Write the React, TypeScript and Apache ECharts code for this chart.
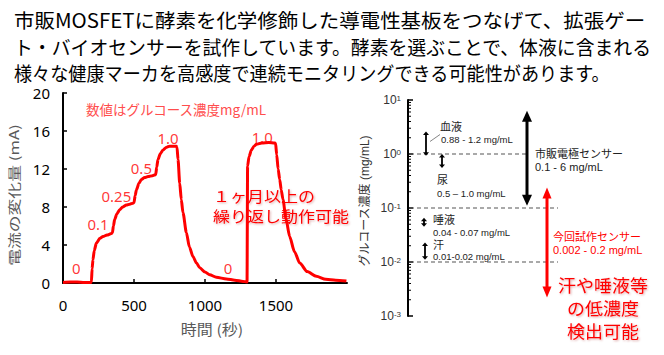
import React, { useEffect, useRef } from "react";
import * as echarts from "echarts";

// ---- Left chart: current change (mA) vs time (s) ----
const timeSec = [
  0, 50, 100, 150, 195,
  200, 205, 211, 220, 235, 260, 282, 310, 341, 348,
  355, 364, 380, 399, 420, 446, 470, 493, 500,
  508, 517, 535, 552, 575, 599, 630, 653,
  660, 669, 685, 704, 730, 751, 798, 803,
  810, 822, 833, 845, 869, 890, 915, 940, 963, 1000, 1033, 1080, 1151, 1210, 1268, 1291, 1296,
  1300, 1310, 1327, 1345, 1362, 1400, 1450, 1490, 1497,
  1505, 1515, 1526, 1537, 1549, 1570, 1596, 1630, 1667, 1720, 1784, 1850, 1920, 1996,
];
const currentMA = [
  0.05, 0.1, 0.1, 0.05, 0.05,
  0.1, 1.5, 2.45, 3.4, 4.2, 4.7, 4.9, 5.05, 5.2, 5.3,
  6.0, 6.7, 7.3, 7.7, 8.0, 8.2, 8.3, 8.4, 8.45,
  9.2, 9.8, 10.5, 10.9, 11.1, 11.2, 11.3, 11.4,
  12.2, 13.0, 13.6, 14.0, 14.3, 14.4, 14.4, 14.3,
  13.0, 10.5, 8.8, 7.4, 5.3, 3.8, 2.8, 2.1, 1.6, 1.15, 0.87, 0.6, 0.42, 0.3, 0.17, 0.12, 0.1,
  12.3, 13.3, 14.0, 14.4, 14.6, 14.75, 14.8, 14.75, 14.7,
  13.5, 12.0, 10.9, 9.8, 8.8, 6.8, 4.9, 3.3, 2.1, 1.2, 0.7, 0.4, 0.3, 0.2,
];
const concLabelTimes = [94, 247, 376, 552, 740, 1162, 1404];
const concLabelValues = [1.6, 6.2, 9.2, 12.1, 15.3, 1.6, 15.4];
const concLabelTexts = ["0", "0.1", "0.25", "0.5", "1.0", "0", "1.0"];

// ---- Right chart: glucose concentration ranges (mg/mL, log scale) ----
const fluidNames = ["血液", "尿", "唾液", "汗"];
const fluidLow = [0.93, 0.55, 0.045, 0.011];
const fluidHigh = [2.6, 1.0, 0.066, 0.023];
const fluidRangeTexts = ["0.88 - 1.2 mg/mL", "0.5 – 1.0 mg/mL", "0.04 - 0.07 mg/mL", "0.01-0.02 mg/mL"];
const commercialRange = [0.11, 6.3];
const prototypeRange = [0.0022, 0.24];
const refLevels = [1, 0.1, 0.01];
const logDecades = [-3, -2, -1, 0];
const logMinorMultipliers = [2, 3, 4, 5, 6, 7, 8, 9];

const CJK = "'Noto Sans CJK JP', sans-serif";
const ARIAL = "'Liberation Sans', 'Noto Sans CJK JP', sans-serif";
const RED = "#ff0000";

function arrowRenderer(color: string, lw: number, headW: number, headL: number) {
  return (params: any, api: any) => {
    const x = api.value(0);
    const lo = api.value(1);
    const hi = api.value(2);
    const top = api.coord([x, hi]);
    const bot = api.coord([x, lo]);
    return {
      type: "group",
      children: [
        {
          type: "line",
          shape: { x1: top[0], y1: top[1] + headL * 0.8, x2: bot[0], y2: bot[1] - headL * 0.8 },
          style: { stroke: color, lineWidth: lw },
        },
        {
          type: "polygon",
          shape: { points: [[top[0], top[1]], [top[0] - headW / 2, top[1] + headL], [top[0] + headW / 2, top[1] + headL]] },
          style: { fill: color },
        },
        {
          type: "polygon",
          shape: { points: [[bot[0], bot[1]], [bot[0] - headW / 2, bot[1] - headL], [bot[0] + headW / 2, bot[1] - headL]] },
          style: { fill: color },
        },
      ],
    };
  };
}

export default function App() {
  const ref = useRef<HTMLDivElement>(null);
  useEffect(() => {
    if (!ref.current) return;
    const chart = echarts.init(ref.current, undefined, { renderer: "svg" });

    const lineData = timeSec.map((t, i) => [t, currentMA[i]]);
    const concData = concLabelTimes.map((t, i) => ({ value: [t, concLabelValues[i]], name: concLabelTexts[i] }));

    // layout positions (x in px offset from right-chart axis)
    const fluidArrowX = [18, 34, 16, 17];
    const refLineEnds = [120, 150, 150];
    const fluidData = fluidNames.map((_, i) => [fluidArrowX[i], fluidLow[i], fluidHigh[i]]);
    const minorTickData: number[][] = [];
    logDecades.forEach((d) => logMinorMultipliers.forEach((m) => minorTickData.push([0, m * Math.pow(10, d)])));

    const titleLines = [
      { text: "市販MOSFETに酵素を化学修飾した導電性基板をつなげて、拡張ゲー", y: 20, sx: 1.05 },
      { text: "ト・バイオセンサーを試作しています。酵素を選ぶことで、体液に含まれる", y: 46.5, sx: 0.967 },
      { text: "様々な健康マーカを高感度で連続モニタリングできる可能性があります。", y: 72, sx: 0.93 },
    ];

    const smallTexts = [
      { t: "血液", x: 440, y: 127, s: 11, c: "#222" },
      { t: fluidRangeTexts[0], x: 441, y: 139.5, s: 9.5, c: "#222" },
      { t: "尿", x: 437, y: 180, s: 11, c: "#222" },
      { t: fluidRangeTexts[1], x: 437, y: 193.5, s: 9.5, c: "#222" },
      { t: "唾液", x: 433, y: 220, s: 11, c: "#222" },
      { t: fluidRangeTexts[2], x: 433, y: 232, s: 9.5, c: "#222" },
      { t: "汗", x: 433, y: 245, s: 11, c: "#222" },
      { t: fluidRangeTexts[3], x: 433, y: 256.5, s: 9.5, c: "#222" },
      { t: "市販電極センサー", x: 535, y: 153.5, s: 11, c: "#222" },
      { t: "0.1 - 6 mg/mL", x: 535, y: 166.5, s: 11, c: "#222" },
      { t: "今回試作センサー", x: 553, y: 237, s: 11, c: RED },
      { t: "0.002 - 0.2 mg/mL", x: 553, y: 249.5, s: 11, c: RED },
    ];

    const glow = { textShadowColor: "rgba(150,0,0,0.35)", textShadowBlur: 2, textShadowOffsetX: 1, textShadowOffsetY: 1 };

    chart.setOption({
      animation: false,
      backgroundColor: "#ffffff",
      grid: [
        { left: 63, top: 93, width: 284, height: 190, containLabel: false },
        { left: 408, top: 100, width: 250, height: 216, containLabel: false },
      ],
      xAxis: [
        {
          type: "value",
          gridIndex: 0,
          min: 0,
          max: 2000,
          interval: 500,
          axisLine: { lineStyle: { color: "#000", width: 2 } },
          axisTick: { inside: true, length: 4, lineStyle: { color: "#000", width: 1.5 } },
          axisLabel: {
            color: "#000",
            fontSize: 15,
            fontFamily: "'Noto Sans', sans-serif",
            margin: 14,
            showMaxLabel: false,
            formatter: (v: number) => String(v),
          },
          splitLine: { show: false },
        },
        { type: "value", gridIndex: 1, min: 0, max: 250, show: false },
      ],
      yAxis: [
        {
          type: "value",
          gridIndex: 0,
          min: 0,
          max: 20,
          interval: 4,
          axisLine: { show: true, lineStyle: { color: "#000", width: 2 } },
          axisTick: { show: true, inside: true, length: 4, lineStyle: { color: "#000", width: 1.5 } },
          axisLabel: { color: "#000", fontSize: 15, fontFamily: "'Noto Sans', sans-serif", margin: 13 },
          splitLine: { show: false },
        },
        {
          type: "log",
          logBase: 10,
          gridIndex: 1,
          min: 0.001,
          max: 10,
          axisLine: { show: true, lineStyle: { color: "#000", width: 2 } },
          axisTick: { show: true, inside: true, length: 5, lineStyle: { color: "#000", width: 1.5 } },
          axisLabel: {
            margin: 7,
            formatter: (v: number) => `{b|10}{s|${Math.round(Math.log10(v))}}`,
            rich: {
              b: { fontSize: 12, color: "#333", fontFamily: ARIAL },
              s: { fontSize: 8, color: "#333", fontFamily: ARIAL, verticalAlign: "top" },
            },
          },
          splitLine: { show: false },
        },
      ],
      series: [
        {
          type: "line",
          xAxisIndex: 0,
          yAxisIndex: 0,
          data: lineData,
          showSymbol: false,
          smooth: 0.25,
          smoothMonotone: "x",
          lineStyle: { color: RED, width: 3 },
          z: 3,
        },
        {
          type: "scatter",
          xAxisIndex: 0,
          yAxisIndex: 0,
          data: concData,
          symbolSize: 2,
          itemStyle: { color: "rgba(255,255,255,0)" },
          label: {
            show: true,
            position: "inside",
            formatter: (p: any) => p.name,
            color: RED,
            fontSize: 15,
            fontFamily: "'Noto Sans', sans-serif",
          },
          z: 4,
        },
        {
          type: "custom",
          xAxisIndex: 1,
          yAxisIndex: 1,
          data: minorTickData,
          encode: { x: 0, y: 1 },
          renderItem: (params: any, api: any) => {
            const p = api.coord([api.value(0), api.value(1)]);
            return { type: "line", shape: { x1: p[0], y1: p[1], x2: p[0] + 3, y2: p[1] }, style: { stroke: "#000", lineWidth: 1 } };
          },
        },
        {
          type: "custom",
          xAxisIndex: 1,
          yAxisIndex: 1,
          data: refLevels.map((lv, i) => [refLineEnds[i], lv]),
          encode: { x: 0, y: 1 },
          renderItem: (params: any, api: any) => {
            const p0 = api.coord([0, api.value(1)]);
            const p1 = api.coord([api.value(0), api.value(1)]);
            return {
              type: "line",
              shape: { x1: p0[0] + 2, y1: p0[1], x2: p1[0], y2: p1[1] },
              style: { stroke: "#555", lineWidth: 1.2, lineDash: [4, 3] },
            };
          },
        },
        {
          type: "custom",
          xAxisIndex: 1,
          yAxisIndex: 1,
          data: fluidData,
          encode: { x: 0, y: [1, 2] },
          renderItem: arrowRenderer("#000", 1.8, 6, 3.5),
          z: 5,
        },
        {
          type: "custom",
          xAxisIndex: 1,
          yAxisIndex: 1,
          data: [[119, commercialRange[0], commercialRange[1]]],
          encode: { x: 0, y: [1, 2] },
          renderItem: arrowRenderer("#000", 3, 10, 11),
          z: 5,
        },
        {
          type: "custom",
          xAxisIndex: 1,
          yAxisIndex: 1,
          data: [[139, prototypeRange[0], prototypeRange[1]]],
          encode: { x: 0, y: [1, 2] },
          renderItem: arrowRenderer(RED, 3, 9, 11),
          z: 5,
        },
      ],
      graphic: [
        ...titleLines.map((l) => ({
          type: "text",
          x: 14,
          y: l.y,
          scaleX: l.sx,
          style: { text: l.text, fontSize: 19.5, fontFamily: CJK, fill: "#000", verticalAlign: "middle" },
        })),
        {
          type: "text",
          x: 13.5,
          y: 195,
          rotation: Math.PI / 2,
          scaleX: 1.12,
          scaleY: 0.85,
          style: { text: "電流の変化量 (mA)", fontSize: 15, fontFamily: CJK, fill: "#595959", align: "center", verticalAlign: "middle" },
        },
        {
          type: "text",
          x: 212,
          y: 328,
          scaleY: 0.9,
          style: { text: "時間 (秒)", fontSize: 16, fontFamily: CJK, fill: "#595959", align: "center", verticalAlign: "middle" },
        },
        {
          type: "text",
          x: 86,
          y: 108.5,
          style: { text: "数値はグルコース濃度mg/mL", fontSize: 13.5, fontFamily: CJK, fill: "#ff4d4d", verticalAlign: "middle" },
        },
        {
          type: "text",
          x: 213,
          y: 195,
          scaleY: 0.88,
          z: 1,
          style: { text: "１ヶ月以上の", fontSize: 17, fontFamily: CJK, fill: RED, verticalAlign: "middle", ...glow },
        },
        {
          type: "text",
          x: 213,
          y: 215,
          scaleY: 0.88,
          z: 1,
          style: { text: "繰り返し動作可能", fontSize: 17, fontFamily: CJK, fill: RED, verticalAlign: "middle", ...glow },
        },
        {
          type: "text",
          x: 365,
          y: 201,
          rotation: Math.PI / 2,
          style: { text: "グルコース濃度 (mg/mL)", fontSize: 12, fontFamily: ARIAL, fill: "#333", align: "center", verticalAlign: "middle" },
        },
        ...smallTexts.map((s) => ({
          type: "text",
          x: s.x,
          y: s.y,
          style: { text: s.t, fontSize: s.s, fontFamily: ARIAL, fill: s.c, verticalAlign: "middle" },
        })),
        {
          type: "line",
          shape: { x1: 430, y1: 141.5, x2: 440, y2: 134.5 },
          style: { stroke: "#666", lineWidth: 0.8 },
        },
        ...["汗や唾液等", "の低濃度", "検出可能"].map((t, i) => ({
          type: "text",
          x: 603,
          y: 285 + i * 22.8,
          scaleX: 1.06,
          style: { text: t, fontSize: 17, fontFamily: CJK, fill: RED, align: "center", verticalAlign: "middle", ...glow },
        })),
      ],
    });
    return () => chart.dispose();
  }, []);
  return (
    <div
      ref={ref}
      style={{ position: "fixed", left: 0, top: 0, width: 664, height: 355, background: "#fff" }}
    />
  );
}
